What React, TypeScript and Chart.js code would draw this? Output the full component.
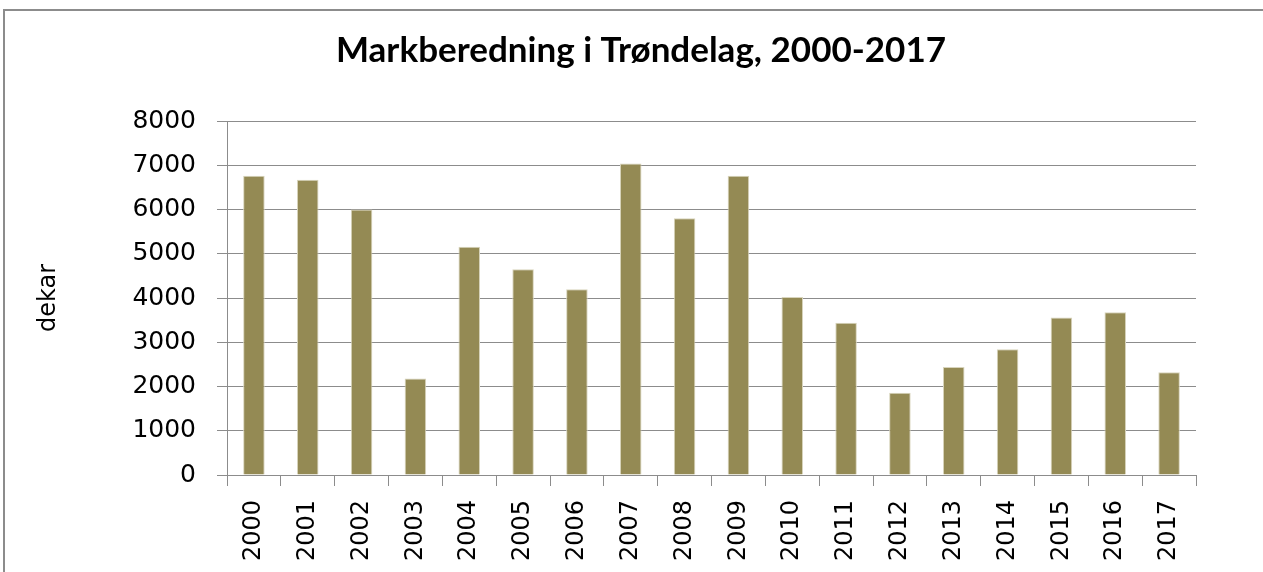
import { useEffect, useRef } from "react";
import { Chart, registerables } from "chart.js";

Chart.register(...registerables);

const titleText = "Markberedning i Trøndelag, 2000-2017";
const yAxisTitle = "dekar";
const years = [
  "2000", "2001", "2002", "2003", "2004", "2005", "2006", "2007", "2008",
  "2009", "2010", "2011", "2012", "2013", "2014", "2015", "2016", "2017",
];
const values = [
  6760, 6670, 6000, 2180, 5160, 4650, 4200, 7040, 5800,
  6760, 4020, 3440, 1860, 2440, 2840, 3560, 3680, 2320,
];
const yMin = 0;
const yMax = 8000;
const yStep = 1000;

export default function App() {
  const ref = useRef<HTMLCanvasElement>(null);

  useEffect(() => {
    const chart = new Chart(ref.current as HTMLCanvasElement, {
      type: "bar",
      data: {
        labels: years,
        datasets: [
          {
            data: values,
            backgroundColor: "#948A54",
            borderColor: "#d8d4bc",
            borderWidth: 1,
            barPercentage: 0.4,
            categoryPercentage: 1,
          },
        ],
      },
      options: {
        animation: false,
        responsive: false,
        layout: { padding: { left: 19, right: 0, top: 0, bottom: 0 } },
        plugins: {
          legend: { display: false },
          tooltip: { enabled: false },
          title: {
            display: true,
            text: titleText,
            color: "#000",
            font: { family: "Lato", weight: "bold", size: 35, lineHeight: 1.2 },
            padding: { top: 30, bottom: 49 },
          },
        },
        scales: {
          x: {
            grid: {
              drawOnChartArea: false,
              drawTicks: true,
              tickLength: 11,
              color: "#8c8c8c",
              offset: true,
            },
            border: { color: "#8c8c8c" },
            ticks: {
              color: "#000",
              font: { family: "DejaVu Sans", size: 24 },
              minRotation: 90,
              maxRotation: 90,
              autoSkip: false,
              padding: 14,
            },
            afterFit: (s: any) => {
              s.height = 97;
            },
          },
          y: {
            position: "left",
            min: yMin,
            max: yMax,
            ticks: {
              stepSize: yStep,
              color: "#000",
              font: { family: "DejaVu Sans", size: 25 },
              padding: 21,
              callback: (v: any) => String(v),
            },
            grid: { color: "#8c8c8c", tickLength: 10 },
            border: { color: "#8c8c8c" },
            title: {
              display: true,
              text: yAxisTitle,
              color: "#000",
              font: { family: "DejaVu Sans", size: 24 },
              padding: { top: 15, bottom: 0 },
            },
            afterFit: (s: any) => {
              s.width = 208;
            },
          },
          yRight: {
            type: "linear",
            position: "right",
            display: true,
            grid: { display: false, drawTicks: false },
            border: { display: false },
            ticks: { display: false },
            afterFit: (s: any) => {
              s.width = 67;
            },
          },
        },
      },
    });
    return () => chart.destroy();
  }, []);

  return (
    <div
      style={{
        position: "fixed",
        left: 0,
        top: 0,
        width: 1263,
        height: 572,
        background: "#fff",
        overflow: "hidden",
      }}
    >
      <div
        style={{
          position: "absolute",
          left: 3,
          top: 9,
          width: 1400,
          height: 700,
          border: "2px solid #8c8c8c",
        }}
      />
      <canvas
        ref={ref}
        width={1263}
        height={572}
        style={{ position: "absolute", left: 0, top: 0 }}
      />
    </div>
  );
}
